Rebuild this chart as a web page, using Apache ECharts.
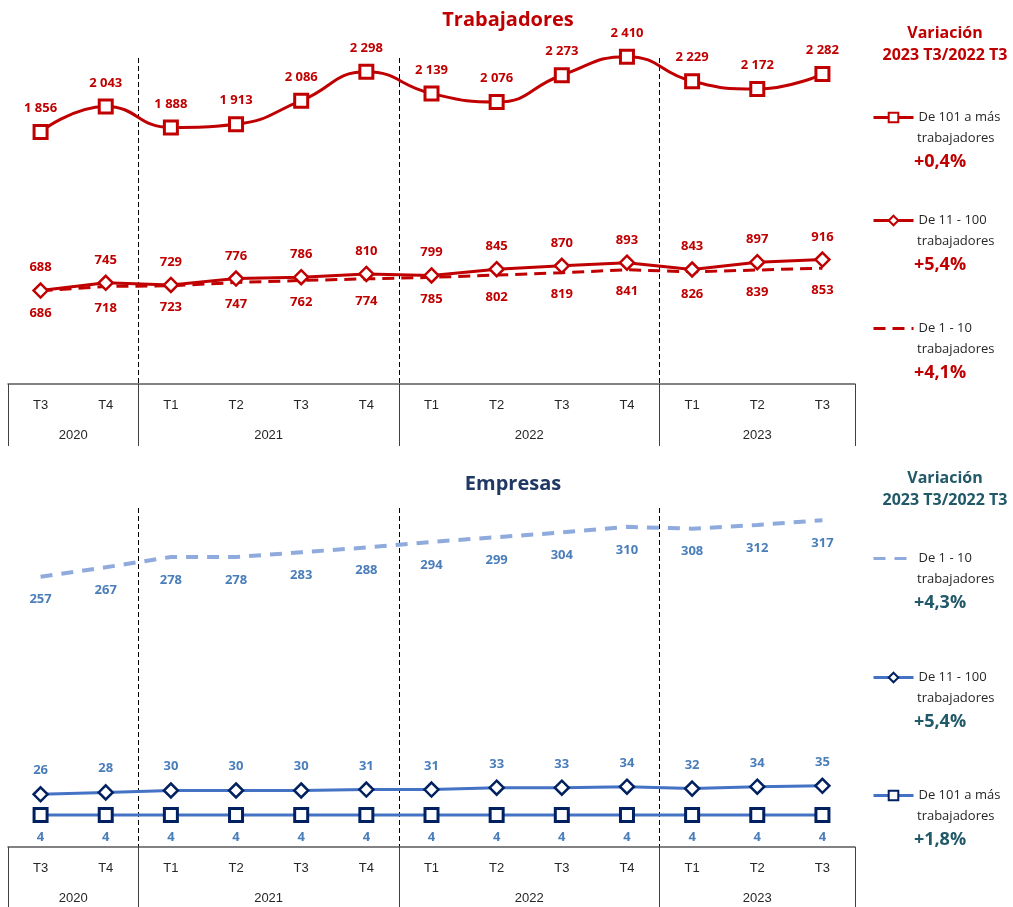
<!DOCTYPE html>
<html>
<head>
<meta charset="utf-8">
<script src="https://cdn.jsdelivr.net/npm/echarts@6/dist/echarts.min.js"></script>
<style>
html,body{margin:0;padding:0;background:#fff;}
#c{width:1013px;height:907px;}
</style>
</head>
<body>
<div id="c"></div>
<script>
// ---- data ----
const quarters = ['T3','T4','T1','T2','T3','T4','T1','T2','T3','T4','T1','T2','T3'];
const years = ['2020','2021','2022','2023'];
const quartersPerYear = [2,4,4,3];

const trab101 = [1856,2043,1888,1913,2086,2298,2139,2076,2273,2410,2229,2172,2282];
const trab11  = [688,745,729,776,786,810,799,845,870,893,843,897,916];
const trab1   = [686,718,723,747,762,774,785,802,819,841,826,839,853];

const emp1   = [257,267,278,278,283,288,294,299,304,310,308,312,317];
const emp11  = [26,28,30,30,30,31,31,33,33,34,32,34,35];
const emp101 = [4,4,4,4,4,4,4,4,4,4,4,4,4];

const trabLegend = ['De 101 a más','De 11 - 100','De 1 - 10'];
const trabVar    = ['+0,4%','+5,4%','+4,1%'];
const empLegend  = ['De 1 - 10','De 11 - 100','De 101 a más'];
const empVar     = ['+4,3%','+5,4%','+1,8%'];
const legendSecondLine = 'trabajadores';
const titles = ['Trabajadores','Empresas'];
const varHeader = ['Variación','2023 T3/2022 T3'];

// ---- derived axis helpers ----
const nSlots = quarters.length * 2 + 1;
const yearSlots = new Array(nSlots).fill('');
const tickSlots = new Set([0]);
const labelSlots = new Set();
const splitSlots = new Set();
let start = 0;
quartersPerYear.forEach((n, i) => {
  const li = 2 * start + n;
  yearSlots[li] = years[i];
  labelSlots.add(li);
  if (start > 0) splitSlots.add(2 * start);
  start += n;
  tickSlots.add(2 * start);
});

const fmt = v => String(v).replace(/\B(?=(\d{3})+(?!\d))/g, ' ');
const RED = '#C00000';
const BLUE_LINE = '#4472C4';
const NAVY = '#002060';
const BLUE_LBL = '#4A7EBB';
const TEAL = '#215968';
const LIGHT = '#8FAADC';
const FONT = "'Open Sans', 'Noto Sans', sans-serif";
const NARROW = "'Liberation Sans Narrow', 'Liberation Sans', sans-serif";

function quarterAxis(grid) {
  return {
    type: 'category', gridIndex: grid, position: 'bottom', data: quarters, boundaryGap: true,
    axisLine: {show: true, onZero: false, lineStyle: {color: '#595959', width: 1.5}},
    axisTick: {show: false},
    axisLabel: {margin: 15, fontSize: 13, color: '#262626', fontFamily: NARROW, interval: 0},
    splitLine: {show: false}
  };
}
function yearAxis(grid, len) {
  return {
    type: 'category', gridIndex: grid, position: 'bottom', data: yearSlots, boundaryGap: false,
    axisLine: {show: false, onZero: false},
    axisTick: {show: true, length: len, interval: (i) => tickSlots.has(i), lineStyle: {color: '#404040', width: 1}},
    axisLabel: {margin: 45, fontSize: 13, color: '#262626', fontFamily: NARROW, interval: (i) => labelSlots.has(i)},
    splitLine: {show: true, interval: (i) => splitSlots.has(i), lineStyle: {color: '#000', type: [5, 3], width: 1}}
  };
}
function lbl(color, pos, dist) {
  return {show: true, position: pos, distance: dist, color: color, fontFamily: FONT, fontWeight: 'bold', fontSize: 13,
          formatter: p => fmt(p.value)};
}

const option = {
  animation: false,
  backgroundColor: '#fff',
  title: [
    {text: titles[0], left: 503, top: 5, textAlign: 'center', textStyle: {color: RED, fontFamily: FONT, fontWeight: 'bold', fontSize: 20}},
    {text: titles[1], left: 508, top: 469, textAlign: 'center', textStyle: {color: '#1F3864', fontFamily: FONT, fontWeight: 'bold', fontSize: 20}}
  ],
  grid: [
    {left: 8, right: 158, top: 58, bottom: 523},
    {left: 8, right: 158, top: 508, bottom: 60}
  ],
  xAxis: [quarterAxis(0), yearAxis(0, 62), quarterAxis(1), yearAxis(1, 60)],
  yAxis: [
    {type: 'value', gridIndex: 0, min: 0, max: 2400, show: false, splitLine: {show: false}},
    {type: 'value', gridIndex: 1, min: -30, max: 330, show: false, splitLine: {show: false}}
  ],
  legend: [],
  graphic: [],
  series: [
    {name: 'T3', type: 'line', xAxisIndex: 0, yAxisIndex: 0, data: trab1, clip: false,
     symbol: 'circle', symbolSize: 1, itemStyle: {color: 'transparent', borderWidth: 0},
     lineStyle: {color: RED, width: 3, type: [12, 7]}, label: lbl(RED, 'bottom', 15), z: 2},
    {name: 'T2', type: 'line', xAxisIndex: 0, yAxisIndex: 0, data: trab11, clip: false,
     symbol: 'diamond', symbolSize: 14, itemStyle: {color: '#fff', borderColor: RED, borderWidth: 2.5},
     lineStyle: {color: RED, width: 3}, label: lbl(RED, 'top', 8), z: 3},
    {name: 'T1', type: 'line', xAxisIndex: 0, yAxisIndex: 0, data: trab101, clip: false, smooth: 0.5,
     symbol: 'rect', symbolSize: 13, itemStyle: {color: '#fff', borderColor: RED, borderWidth: 3},
     lineStyle: {color: RED, width: 3}, label: lbl(RED, 'top', 9), z: 4},

    {name: 'E1', type: 'line', xAxisIndex: 2, yAxisIndex: 1, data: emp1, clip: false,
     symbol: 'circle', symbolSize: 1, itemStyle: {color: 'transparent', borderWidth: 0},
     lineStyle: {color: LIGHT, width: 4, type: [12, 9]}, label: lbl(BLUE_LBL, 'bottom', 16), z: 2},
    {name: 'E2', type: 'line', xAxisIndex: 2, yAxisIndex: 1, data: emp11, clip: false,
     symbol: 'diamond', symbolSize: 14, itemStyle: {color: '#fff', borderColor: NAVY, borderWidth: 2.5},
     lineStyle: {color: BLUE_LINE, width: 3}, label: lbl(BLUE_LBL, 'top', 9), z: 3},
    {name: 'E3', type: 'line', xAxisIndex: 2, yAxisIndex: 1, data: emp101, clip: false,
     symbol: 'rect', symbolSize: 13, itemStyle: {color: '#fff', borderColor: NAVY, borderWidth: 3},
     lineStyle: {color: BLUE_LINE, width: 3}, label: lbl(BLUE_LBL, 'bottom', 8), z: 4}
  ]
};

// legends + side texts
const sideBlocks = [
  {names: ['T1','T2','T3'], labels: trabLegend, vars: trabVar, color: RED, header: 33, ys: [117, 220, 328]},
  {names: ['E1','E2','E3'], labels: empLegend, vars: empVar, color: TEAL, header: 478, ys: [558, 677, 795]}
];
sideBlocks.forEach(b => {
  option.graphic.push({type: 'text', x: 945, y: b.header, style: {text: varHeader[0], font: "bold 16px " + FONT, fill: b.color, textAlign: 'center', align: 'center', textVerticalAlign: 'middle', verticalAlign: 'middle'}});
  option.graphic.push({type: 'text', x: 945, y: b.header + 22, style: {text: varHeader[1], font: "bold 16px " + FONT, fill: b.color, textAlign: 'center', align: 'center', textVerticalAlign: 'middle', verticalAlign: 'middle'}});
  b.names.forEach((nm, i) => {
    const y = b.ys[i];
    option.legend.push({
      data: [nm], left: 872, top: y - 6, padding: 0, itemWidth: 40, itemHeight: 12, itemGap: 0,
      selectedMode: false,
      lineStyle: {width: 3},
      formatter: () => b.labels[i],
      textStyle: {fontSize: 13, color: '#262626', fontFamily: FONT, lineHeight: 12}
    });
    option.graphic.push({type: 'text', x: 917, y: y + 21, style: {text: legendSecondLine, font: "13px " + FONT, fill: '#262626', textAlign: 'left', align: 'left', textVerticalAlign: 'middle', verticalAlign: 'middle'}});
    option.graphic.push({type: 'text', x: 940, y: y + 45, style: {text: b.vars[i], font: "bold 18px " + FONT, fill: b.color, textAlign: 'center', align: 'center', textVerticalAlign: 'middle', verticalAlign: 'middle'}});
  });
});

const chart = echarts.init(document.getElementById('c'), null, {renderer: 'canvas'});
chart.setOption(option);
</script>
</body>
</html>
